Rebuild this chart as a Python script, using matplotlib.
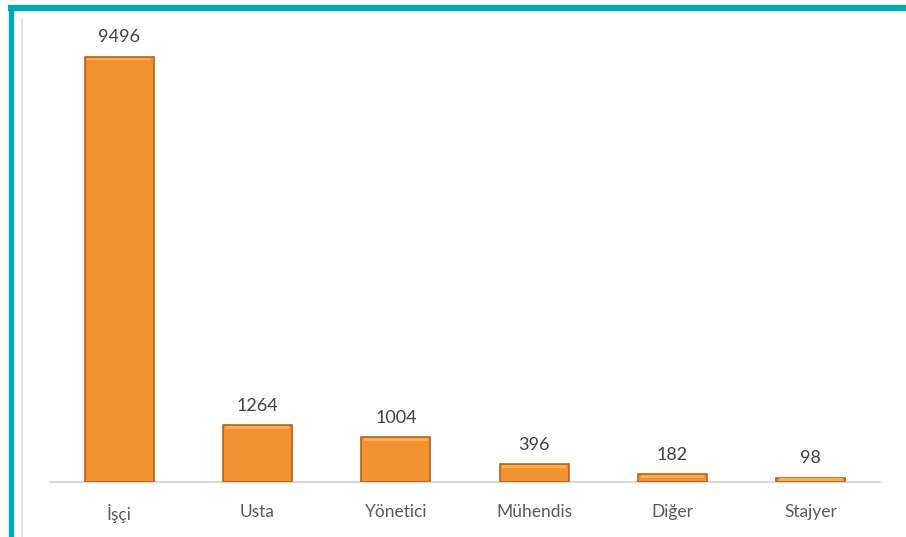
import matplotlib.pyplot as plt
from matplotlib.lines import Line2D

categories = ['İşçi', 'Usta', 'Yönetici', 'Mühendis', 'Diğer', 'Stajyer']
values = [9496, 1264, 1004, 396, 182, 98]

plt.rcParams['font.family'] = ['Lato', 'DejaVu Sans']

W, H = 906, 537
fig = plt.figure(figsize=(W / 100, H / 100), dpi=100)
ax = fig.add_axes([50 / W, (H - 482) / H, 830 / W, (482 - 34) / H])

x = list(range(len(categories)))
ax.bar(x, values, width=0.5, color='#F39230', edgecolor='#B8621A', linewidth=1.2, zorder=3)
# soft highlight along the top of each bar
for xi, v in zip(x, values):
    h = min(v, 110)
    ax.bar(xi, h * 0.55, width=0.46, bottom=v - h * 0.75,
           color='#F8AE55', linewidth=0, zorder=4)

for xi, v in zip(x, values):
    ax.annotate(str(v), (xi, v), xytext=(0, 8), textcoords='offset points',
                ha='center', va='bottom', fontsize=13, color='#404040')

ax.set_xlim(-0.5, 5.5)
ax.set_ylim(0, 10000)
ax.set_xticks(x)
ax.set_xticklabels(categories, fontsize=12.5, color='#595959')
ax.tick_params(axis='x', length=0, pad=16)
ax.set_yticks([])
for s in ['top', 'right', 'left']:
    ax.spines[s].set_visible(False)
ax.spines['bottom'].set_color('#D0D0D0')
ax.spines['bottom'].set_linewidth(1.2)

# teal frame and faint inner line
fig.add_artist(Line2D([8 / W, 1], [(H - 8) / H] * 2, color='#00A9B5', linewidth=4.5,
                      transform=fig.transFigure, solid_capstyle='butt'))
fig.add_artist(Line2D([10.5 / W] * 2, [0, (H - 5) / H], color='#00A9B5', linewidth=3.8,
                      transform=fig.transFigure, solid_capstyle='butt'))
fig.add_artist(Line2D([22 / W] * 2, [0, (H - 20) / H], color='#DADADA', linewidth=1.2,
                      transform=fig.transFigure))

fig.savefig('out.png', dpi=100)
